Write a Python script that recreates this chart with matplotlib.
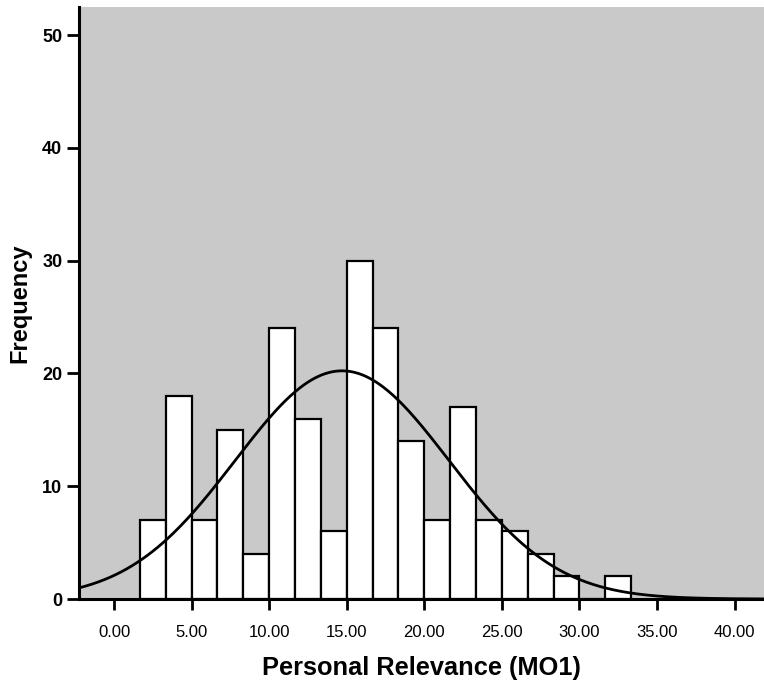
import numpy as np
import matplotlib.pyplot as plt

# histogram of MO1 scores, 19 bins of width 5/3 starting at 5/3
bin_start = 5.0 / 3.0
bin_width = 5.0 / 3.0
counts = [7, 18, 7, 15, 4, 24, 16, 6, 30, 24, 14, 7, 17, 7, 6, 4, 2, 0, 2]

# normal curve parameters
mean_mo1 = 14.7
sd_mo1 = 6.9

x_ticks = [0, 5, 10, 15, 20, 25, 30, 35, 40]
x_labels = ['0.00', '5.00', '10.00', '15.00', '20.00', '25.00', '30.00', '35.00', '40.00']
y_ticks = [0, 10, 20, 30, 40, 50]

plt.rcParams['font.family'] = ['Liberation Sans', 'DejaVu Sans']

fig = plt.figure(figsize=(7.64, 6.81), dpi=100)
ax = fig.add_axes([0.1034, 0.1204, 0.8966, 0.8693])
ax.set_facecolor('#c9c9c9')

edges = bin_start + bin_width * np.arange(len(counts))
ax.bar(edges, counts, width=bin_width, align='edge', color='white',
       edgecolor='black', linewidth=1.6, zorder=2)

n = sum(counts)
xs = np.linspace(-2.3, 42, 400)
ys = n * bin_width / (sd_mo1 * np.sqrt(2 * np.pi)) * np.exp(-0.5 * ((xs - mean_mo1) / sd_mo1) ** 2)
ax.plot(xs, ys, color='black', linewidth=2, zorder=3)

ax.set_xlim(-2.26, 41.9)
ax.set_ylim(0, 52.5)

for s in ['top', 'right']:
    ax.spines[s].set_visible(False)
for s in ['left', 'bottom']:
    ax.spines[s].set_linewidth(2.2)
    ax.spines[s].set_zorder(4)

ax.set_yticks(y_ticks)
ax.set_yticklabels([str(v) for v in y_ticks], fontsize=13, fontweight='bold')
ax.set_xticks(x_ticks)
ax.set_xticklabels(x_labels, fontsize=12)
ax.tick_params(axis='y', length=9, width=2, pad=3)
ax.tick_params(axis='x', length=8, width=2, pad=11)

ax.set_ylabel('Frequency', fontsize=17, fontweight='bold')
ax.yaxis.set_label_coords(-0.07, 0.5)
ax.set_xlabel('Personal Relevance (MO1)', fontsize=18.3, fontweight='bold')
ax.xaxis.set_label_coords(0.5, -0.097)

fig.savefig('out.png', dpi=100)
